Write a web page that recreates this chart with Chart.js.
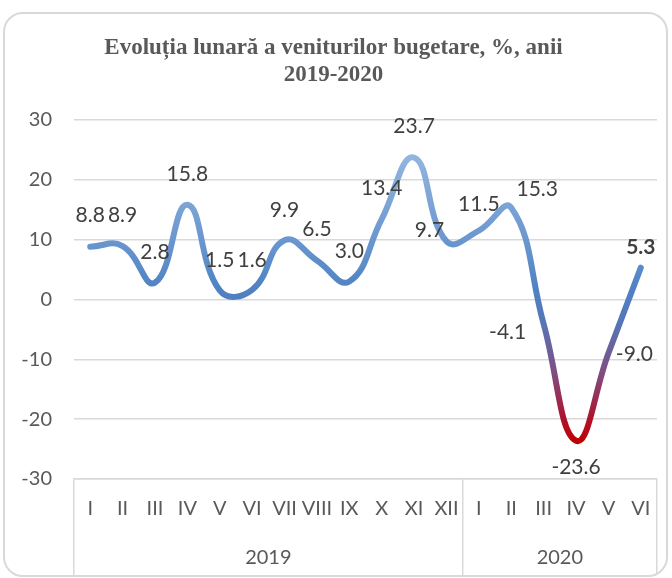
<!DOCTYPE html>
<html lang="ro">
  <head>
    <meta charset="UTF-8" />
    <title>Evoluția lunară a veniturilor bugetare</title>
    <style>
      body {
        margin: 0;
        padding: 0;
        background-color: #fff;
      }

      .frame {
        position: absolute;
        left: 3px;
        top: 12px;
        width: 665px;
        height: 565px;
        box-sizing: border-box;
        border: 2px solid #d9d9d9;
        border-radius: 20px;
      }

      .chart-container {
        position: absolute;
        left: 0;
        top: 0;
        width: 672px;
        height: 578px;
      }
    </style>
  </head>
  <body>
    <div class="frame"></div>
    <div class="chart-container">
      <canvas id="revenueChart"></canvas>
    </div>

    <script src="https://cdn.jsdelivr.net/npm/chart.js"></script>
    <script>
      const months2019 = ["I", "II", "III", "IV", "V", "VI", "VII", "VIII", "IX", "X", "XI", "XII"];
      const months2020 = ["I", "II", "III", "IV", "V", "VI"];
      const values2019 = [8.8, 8.9, 2.8, 15.8, 1.5, 1.6, 9.9, 6.5, 3.0, 13.4, 23.7, 9.7];
      const values2020 = [11.5, 15.3, -4.1, -23.6, -9.0, 5.3];
      const years = ["2019", "2020"];
      const yTicks = [-30, -20, -10, 0, 10, 20, 30];

      // label placement for each point, [dx, dy] from the point
      const labelOffsets = [
        [0, -31], [0, -31], [0, -30], [0, -31], [0, -30], [0, -30],
        [0, -30], [0, -31], [0, -30], [0, -31], [0, -31], [-17, -11],
        [0, -26], [26, -19], [-36, 8], [0, 27], [26, 1], [0, -20],
      ];

      const labels = months2019.concat(months2020);
      const values = values2019.concat(values2020);
      const lastIndex = values.length - 1;

      // centre of each year group and its boundaries, in category units
      const yearCenters = [
        (months2019.length - 1) / 2,
        months2019.length + (months2020.length - 1) / 2,
      ];
      const yearBounds = [0, months2019.length, labels.length];

      const textColor = "#595959";
      const gridColor = "#d9d9d9";
      const fontFamily = "Lato, 'Open Sans', sans-serif";
      const tickFont = { family: fontFamily, size: 20 };

      function lineGradient(context) {
        const chart = context.chart;
        const { ctx, chartArea, scales } = chart;
        if (!chartArea) return "#5b8cc8";
        const top = scales.y.getPixelForValue(24);
        const bottom = scales.y.getPixelForValue(-24);
        const g = ctx.createLinearGradient(0, top, 0, bottom);
        g.addColorStop(0, "#93b5df");
        g.addColorStop(0.29, "#6b97cf");
        g.addColorStop(0.46, "#4f83c4");
        g.addColorStop(0.58, "#5676b7");
        g.addColorStop(0.75, "#7e4f84");
        g.addColorStop(0.92, "#b0102a");
        g.addColorStop(1, "#c00000");
        return g;
      }

      const pointLabels = {
        id: "pointLabels",
        afterDatasetsDraw(chart) {
          const ctx = chart.ctx;
          const meta = chart.getDatasetMeta(0);
          ctx.save();
          ctx.fillStyle = "#404040";
          ctx.textAlign = "center";
          ctx.textBaseline = "middle";
          meta.data.forEach((pt, i) => {
            const weight = i === lastIndex ? "bold " : "";
            ctx.font = weight + "21px " + fontFamily;
            const off = labelOffsets[i];
            ctx.fillText(values[i].toFixed(1), pt.x + off[0], pt.y + off[1]);
          });
          ctx.restore();
        },
      };

      const ctx = document.getElementById("revenueChart").getContext("2d");

      new Chart(ctx, {
        type: "line",
        data: {
          labels: labels,
          datasets: [
            {
              data: values,
              borderColor: lineGradient,
              borderWidth: 6,
              borderCapStyle: "round",
              borderJoinStyle: "round",
              pointRadius: 0,
              tension: 0.45,
              fill: false,
            },
          ],
        },
        options: {
          responsive: true,
          maintainAspectRatio: false,
          animation: false,
          layout: {
            padding: { left: 10, right: 15, top: 0, bottom: 0 },
          },
          scales: {
            y: {
              min: -30,
              max: 30,
              afterBuildTicks: (axis) => {
                axis.ticks = yTicks.map((v) => ({ value: v }));
              },
              afterFit: (axis) => {
                axis.width = 64;
              },
              border: { display: false },
              grid: { color: gridColor, lineWidth: 1.5, drawTicks: false },
              ticks: { color: textColor, font: tickFont, padding: 22 },
            },
            x: {
              type: "category",
              offset: true,
              weight: 0,
              afterFit: (axis) => {
                axis.height = 50;
              },
              border: { display: true, color: gridColor, width: 1.5 },
              grid: {
                offset: true,
                drawOnChartArea: false,
                drawTicks: true,
                tickLength: 96,
                lineWidth: 1.5,
                color: (c) =>
                  c.index === undefined || yearBounds.includes(c.index)
                    ? gridColor
                    : "rgba(0,0,0,0)",
              },
              ticks: {
                color: textColor,
                font: tickFont,
                padding: -78,
                maxRotation: 0,
                autoSkip: false,
              },
            },
            year: {
              type: "linear",
              position: "bottom",
              weight: 1,
              min: -0.5,
              max: labels.length - 0.5,
              afterBuildTicks: (axis) => {
                axis.ticks = yearCenters.map((v) => ({ value: v }));
              },
              afterFit: (axis) => {
                axis.height = 49;
              },
              border: { display: false },
              grid: { display: false, drawTicks: false },
              ticks: {
                color: textColor,
                font: tickFont,
                padding: 17,
                maxRotation: 0,
                autoSkip: false,
                callback: (v, i) => years[i],
              },
            },
          },
          plugins: {
            legend: { display: false },
            tooltip: { enabled: false },
            title: {
              display: true,
              text: ["Evoluția lunară a veniturilor bugetare, %, anii", "2019-2020"],
              color: textColor,
              font: {
                family: "'Liberation Serif', 'DejaVu Serif', serif",
                size: 23,
                weight: "bold",
                lineHeight: 1.17,
              },
              padding: { top: 35, bottom: 31 },
            },
          },
        },
        plugins: [pointLabels],
      });
    </script>
  </body>
</html>
